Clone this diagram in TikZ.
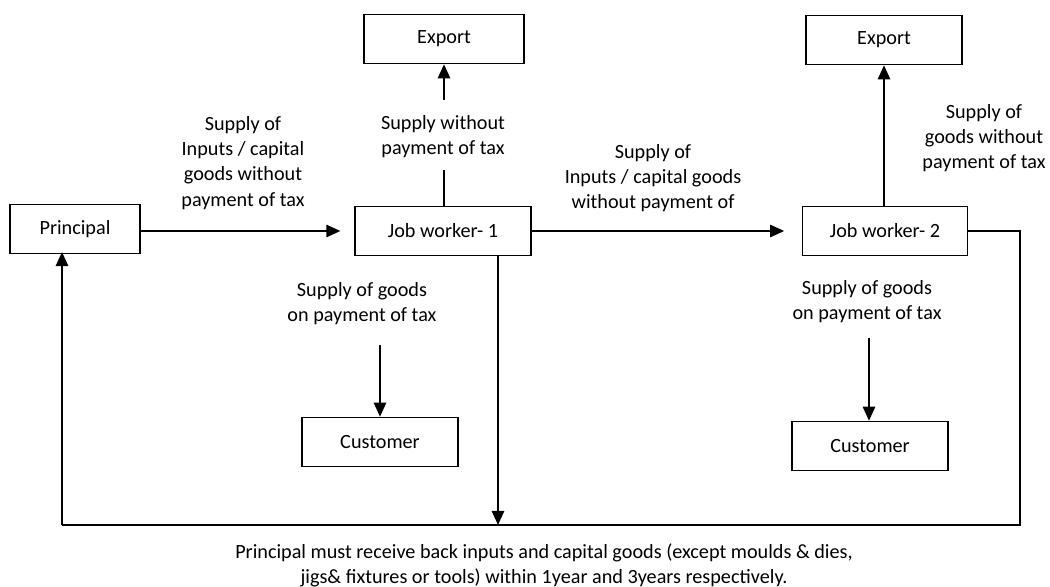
\documentclass[tikz,border=0pt]{standalone}
\usepackage{fontspec}
\setmainfont{Carlito}
\usetikzlibrary{arrows.meta,positioning}

\tikzset{
  box/.style={draw, line width=0.8pt, minimum width=#1, minimum height=28pt},
  box/.default=90pt,
  lbl/.style={align=center, inner ysep=5pt, font=\fontsize{11.5}{14.3}\selectfont},
  flow/.style={line width=1.1pt, -{Triangle[length=8pt,width=7pt]}},
  wire/.style={line width=1.1pt}
}

\begin{document}
\begin{tikzpicture}[x=0.02cm, y=-0.02cm, font=\fontsize{11.5}{14.3}\selectfont]
  \useasboundingbox (0,0) rectangle (1050,587);
  % boxes
  \node[box=74pt] (prin) at (75,229) {Principal};
  \node[box=100pt] (jw1) at (443,231) {Job worker- 1};
  \node[box=94pt] (jw2) at (885,231) {Job worker- 2};
  \node[box=91pt] (exp1) at (444,39) {Export};
  \node[box=89pt] (exp2) at (884,40) {Export};
  \node[box=89pt] (cust1) at (380,442) {Customer};
  \node[box=89pt] (cust2) at (870,446) {Customer};
  % labels
  \node[lbl] (in1) at (243,163) {Supply of\\Inputs / capital\\goods without\\payment of tax};
  \node[lbl] (in2) at (653,178) {Supply of\\Inputs / capital goods\\without payment of};
  \node[lbl] (ex1) at (443,137) {Supply without\\payment of tax};
  \node[lbl] (ex2) at (984,138) {Supply of\\goods without\\payment of tax};
  \node[lbl] (sg1) at (362,304) {Supply of goods\\on payment of tax};
  \node[lbl] (sg2) at (867,302) {Supply of goods\\on payment of tax};
  \node[lbl] (note) at (544,565) {Principal must receive back inputs and capital goods (except moulds \& dies,\\jigs\& fixtures or tools) within 1year and 3years respectively.};
  % connector ends
  \coordinate (e1a) at (444,170);
  \coordinate (e1b) at (444,100);
  \coordinate (c1) at (380,345);
  \coordinate (c2) at (869,338);
  \coordinate (jd) at (498,256);
  \coordinate (bm) at (498,525);
  \coordinate (bl) at (62,525);
  \coordinate (br) at (1020,525);
  \coordinate (tr) at (1020,231);
  \coordinate (pb) at (62,252);
  \draw[flow, shorten >=8pt] (prin.east |- jw1) -- (jw1);
  \draw[flow, shorten >=10pt] (jw1) -- (jw2);
  \draw[wire] (jw1.north -| e1a) -- (e1a);
  \draw[flow] (e1b) -- (exp1.south -| e1b);
  \draw[flow] (jw2.north -| exp2) -- (exp2);
  \draw[flow] (c1) -- (cust1.north -| c1);
  \draw[flow] (c2) -- (cust2.north -| c2);
  \draw[flow] (jd) -- (bm);
  \draw[wire] (jw2) -- (tr) -- (br) -- (bl);
  \draw[flow] (bl) -- (pb);
\end{tikzpicture}
\end{document}
